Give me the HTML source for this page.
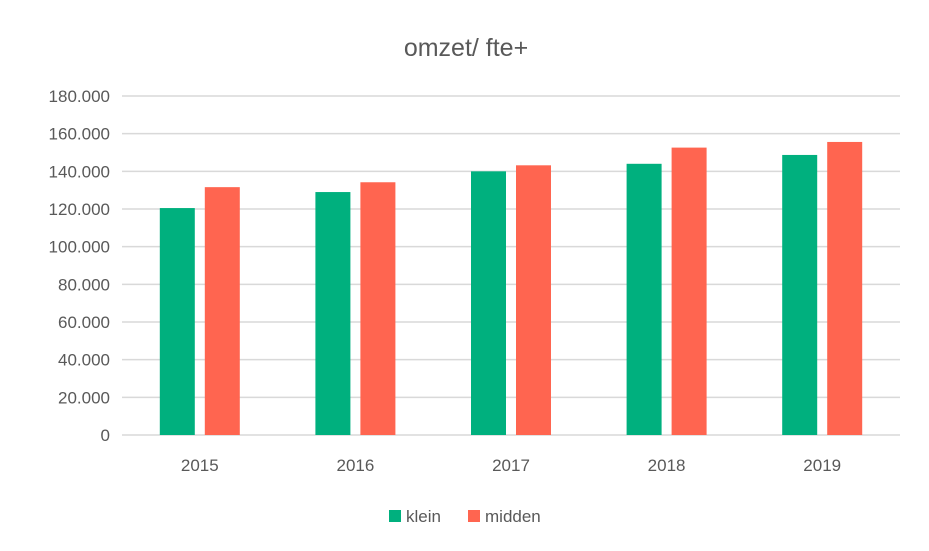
<!DOCTYPE html>
<html><head><meta charset="utf-8"><style>
body{margin:0;background:#fff;font-family:"Liberation Sans",sans-serif}
svg text{font-family:"Liberation Sans",sans-serif;fill:#595959}
</style></head><body>
<svg width="929" height="546" id="c">
<text x="466" y="56" text-anchor="middle" font-size="25">omzet/ fte+</text>
<g id="grid"></g><g id="bars"></g>
<g>
<rect x="389" y="510" width="12" height="12" fill="#00b07e"/>
<text x="406" y="522" font-size="17">klein</text>
<rect x="468" y="510" width="12" height="12" fill="#ff6550"/>
<text x="485" y="522" font-size="17">midden</text>
</g>
</svg>
<script>
const categories=["2015","2016","2017","2018","2019"];
const klein=[120500,129000,140000,144000,148700];
const midden=[131600,134200,143200,152600,155600];
const ticks=[0,20000,40000,60000,80000,100000,120000,140000,160000,180000];
const tickLabels=["0","20.000","40.000","60.000","80.000","100.000","120.000","140.000","160.000","180.000"];
const ns="http://www.w3.org/2000/svg";
const x0=122,x1=900,yb=435,yt=96,max=180000;
const y=v=>yb-(v/max)*(yb-yt);
const bw=(x1-x0)/categories.length;
function mk(t,a,p){const e=document.createElementNS(ns,t);for(const k in a)e.setAttribute(k,a[k]);p.appendChild(e);return e;}
const g=document.getElementById('grid'),b=document.getElementById('bars');
ticks.forEach((t,i)=>{
 const l=mk('line',{x1:x0,x2:x1,y1:y(t),y2:y(t),stroke:'#d9d9d9','stroke-width':1.5},g);
 
 
 const tx=mk('text',{x:110,y:y(t)+6,'text-anchor':'end','font-size':17},g);
 tx.textContent=tickLabels[i];
 
 
});
categories.forEach((c,i)=>{
 const cx=x0+bw*(i+0.5);
 const r1=mk('rect',{x:cx-40,width:35,y:y(klein[i]),height:yb-y(klein[i]),fill:'#00b07e'},b);
 
 
 const r2=mk('rect',{x:cx+5,width:35,y:y(midden[i]),height:yb-y(midden[i]),fill:'#ff6550'},b);
 
 
 const tx=mk('text',{x:cx,y:471,'text-anchor':'middle','font-size':17},b);
 tx.textContent=c;
 
 
});
</script>
</body></html>
